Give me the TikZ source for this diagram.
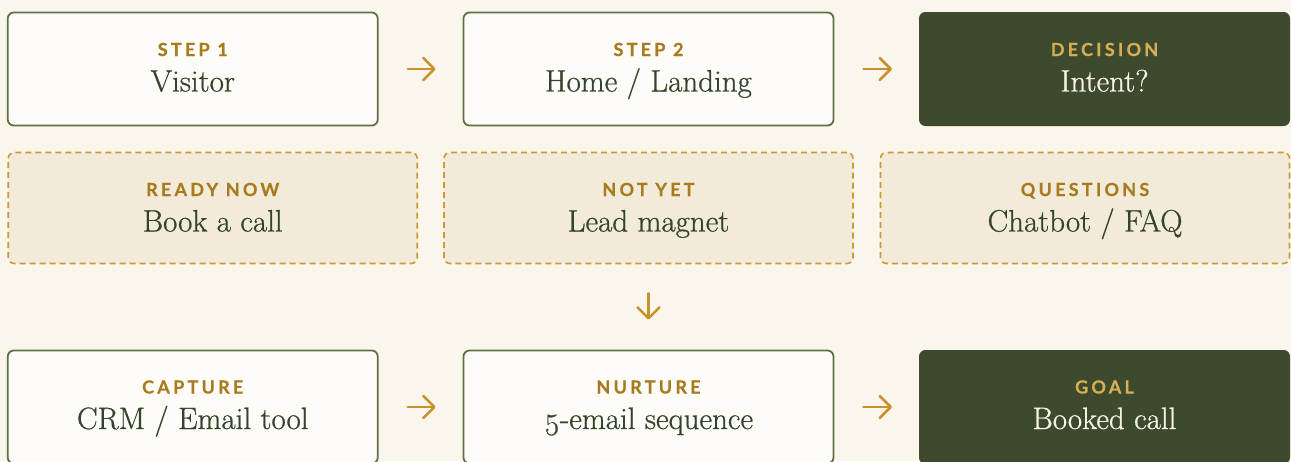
\documentclass[tikz,border=0pt]{standalone}
\usepackage{fontspec}
\setmainfont{Latin Modern Roman}[Numbers=OldStyle]
\newfontfamily\serifmed{Latin Modern Roman}[Numbers=OldStyle, FakeBold=0.7]
\newfontfamily\labfont{Lato}[LetterSpace=18, BoldFeatures={FakeBold=0.6}]
\usetikzlibrary{arrows.meta}
\definecolor{bg}{HTML}{FAF6EC}
\definecolor{lightfill}{HTML}{FEFCF8}
\definecolor{boxline}{HTML}{5F6F46}
\definecolor{darkfill}{HTML}{3D4A2E}
\definecolor{dashfill}{HTML}{F3EBDA}
\definecolor{dashline}{HTML}{CC9A33}
\definecolor{arrowcol}{HTML}{C9912C}
\definecolor{labgold}{HTML}{A87B1F}
\definecolor{labgolddark}{HTML}{D4AD55}
\definecolor{textgreen}{HTML}{34442A}
\definecolor{textcream}{HTML}{F8F3E6}
\tikzset{
  stepbox/.style={draw=boxline, line width=1.8pt, fill=lightfill, rounded corners=6pt,
    minimum width=370pt, minimum height=113pt, inner sep=0pt},
  darkbox/.style={draw=darkfill, line width=1pt, fill=darkfill, rounded corners=6pt,
    minimum width=370pt, minimum height=113pt, inner sep=0pt},
  optbox/.style={draw=dashline, line width=1.6pt, dash pattern=on 6pt off 4pt, fill=dashfill,
    rounded corners=6pt, minimum width=409pt, minimum height=111pt, inner sep=0pt},
  lab/.style={anchor=base, inner sep=0pt, font=\labfont\bfseries\fontsize{18}{18}\selectfont, text=labgold},
  labdark/.style={lab, text=labgolddark},
  maintxt/.style={anchor=base, inner sep=0pt, font=\serifmed\fontsize{31}{33}\selectfont, text=textgreen},
  maindark/.style={maintxt, text=textcream},
  arr/.style={draw=arrowcol, line width=2.5pt, line cap=round,
    -{Straight Barb[length=11pt, width=22pt, line cap=round, line join=round]}}
}
\begin{document}
\begin{tikzpicture}[x=1pt, y=-1pt]
\useasboundingbox (0,0) rectangle (1291,461);
\clip (0,0) rectangle (1291,461);
\fill[bg] (0,0) rectangle (1291,461);
% top row
\node[stepbox] (b1) at (192.75,69) {};
\node[stepbox] (b2) at (648.5,69) {};
\node[darkbox] (b3) at (1104.5,69) {};
% middle row
\node[optbox] (m1) at (212.75,208) {};
\node[optbox] (m2) at (648.5,208) {};
\node[optbox] (m3) at (1085,208) {};
% bottom row
\node[stepbox] (c1) at (192.75,407) {};
\node[stepbox] (c2) at (648.5,407) {};
\node[darkbox] (c3) at (1104.5,407) {};
% texts
\node[lab] (b1l) at (192.75,56) {STEP 1};
\node[maintxt] (b1t) at (192.75,91.5) {Visitor};
\node[lab] (b2l) at (648.5,56) {STEP 2};
\node[maintxt] (b2t) at (648.5,91.5) {Home / Landing};
\node[labdark] (b3l) at (1104.5,56) {DECISION};
\node[maindark] (b3t) at (1104.5,91.5) {Intent?};
\node[lab] (m1l) at (212.75,196) {READY NOW};
\node[maintxt] (m1t) at (212.75,231.5) {Book a call};
\node[lab] (m2l) at (648.5,196) {NOT YET};
\node[maintxt] (m2t) at (648.5,231.5) {Lead magnet};
\node[lab] (m3l) at (1085,196) {QUESTIONS};
\node[maintxt] (m3t) at (1085,231.5) {Chatbot / FAQ};
\node[lab] (c1l) at (192.75,393.5) {CAPTURE};
\node[maintxt] (c1t) at (192.75,429) {CRM / Email tool};
\node[lab] (c2l) at (648.5,393.5) {NURTURE};
\node[maintxt] (c2t) at (648.5,429) {5-email sequence};
\node[labdark] (c3l) at (1104.5,393.5) {GOAL};
\node[maindark] (c3t) at (1104.5,429) {Booked call};
% arrows
\draw[arr] ([xshift=29pt]b1.east) -- ([xshift=-27pt]b2.west);
\draw[arr] ([xshift=29pt]b2.east) -- ([xshift=-27pt]b3.west);
\draw[arr] ([yshift=-29pt]m2.south) -- ([yshift=30pt]c2.north);
\draw[arr] ([xshift=29pt]c1.east) -- ([xshift=-27pt]c2.west);
\draw[arr] ([xshift=29pt]c2.east) -- ([xshift=-27pt]c3.west);
\end{tikzpicture}
\end{document}
